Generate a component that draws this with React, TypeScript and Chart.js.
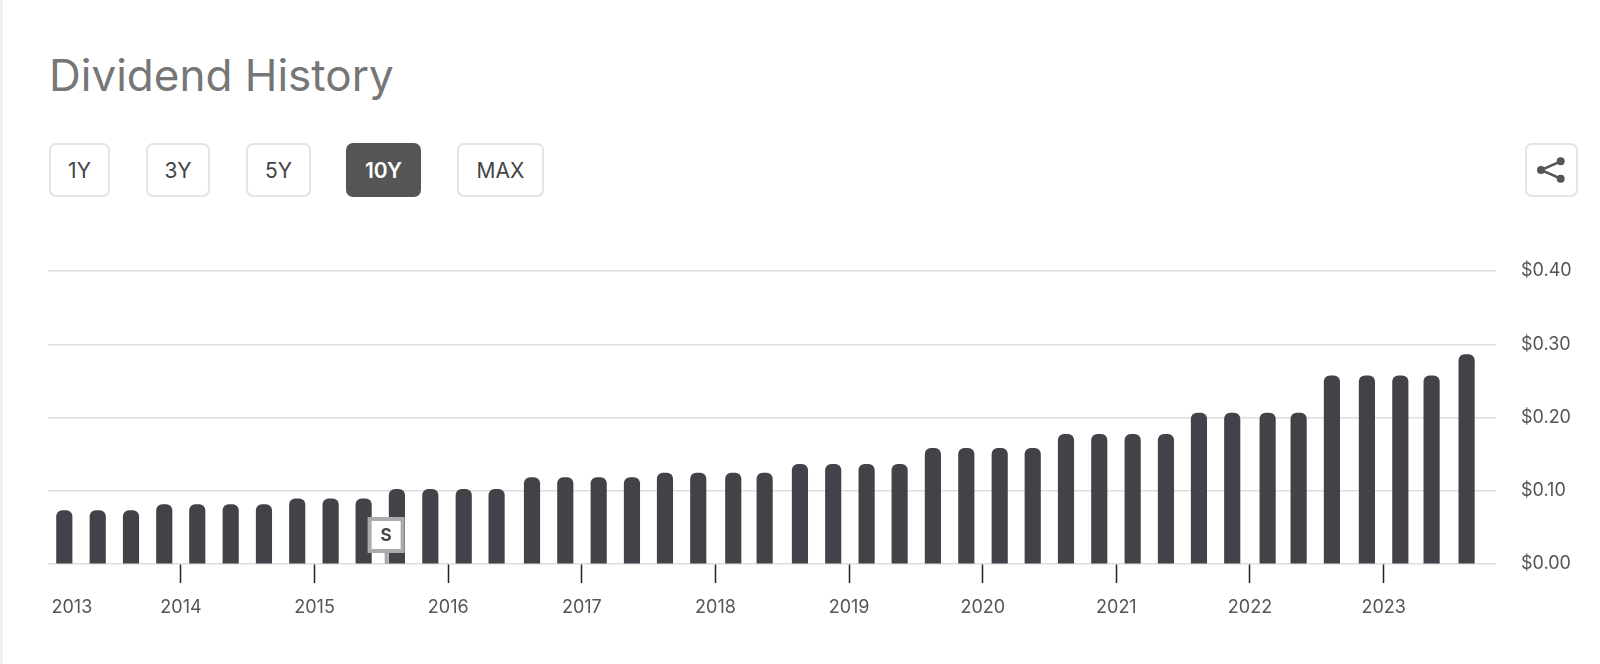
import { useEffect, useRef } from 'react';
import { Chart, registerables } from 'chart.js';
import type { Plugin } from 'chart.js';

Chart.register(...registerables);

// Ex-dividend dates as fractional years
const exDates = [
  2013.127, 2013.377, 2013.626, 2013.875,
  2014.122, 2014.372, 2014.621, 2014.87,
  2015.12, 2015.367, 2015.616, 2015.866,
  2016.116, 2016.362, 2016.627, 2016.876,
  2017.126, 2017.375, 2017.622, 2017.871,
  2018.133, 2018.368, 2018.632, 2018.881,
  2019.131, 2019.378, 2019.627, 2019.877,
  2020.127, 2020.374, 2020.623, 2020.872,
  2021.122, 2021.371, 2021.618, 2021.867,
  2022.132, 2022.364, 2022.613, 2022.875,
  2023.125, 2023.359, 2023.621,
];

const dividends = [
  0.073, 0.073, 0.073, 0.081,
  0.081, 0.081, 0.081, 0.089,
  0.089, 0.089, 0.102, 0.102,
  0.102, 0.102, 0.118, 0.118,
  0.118, 0.118, 0.124, 0.124,
  0.124, 0.124, 0.136, 0.136,
  0.136, 0.136, 0.158, 0.158,
  0.158, 0.158, 0.177, 0.177,
  0.177, 0.177, 0.206, 0.206,
  0.206, 0.206, 0.257, 0.257,
  0.257, 0.257, 0.286,
];

// 2013 has no tick mark in the original, its label just sits at the left edge
const yearTicks = [2013.184, 2014, 2015, 2016, 2017, 2018, 2019, 2020, 2021, 2022, 2023];
const yearLabels = ['2013', '2014', '2015', '2016', '2017', '2018', '2019', '2020', '2021', '2022', '2023'];

const splitDates = [2015.539];

const ranges = ['1Y', '3Y', '5Y', '10Y', 'MAX'];
const rangeBoxes = [
  { left: 49, width: 61 },
  { left: 146, width: 64 },
  { left: 246, width: 65 },
  { left: 346, width: 75 },
  { left: 457, width: 87 },
];

const FONT = 'Inter, "Liberation Sans", sans-serif';

// Little "S" flag for the stock split
const splitFlag: Plugin<'bar'> = {
  id: 'splitFlag',
  afterDatasetsDraw(chart) {
    const { ctx, scales } = chart;
    const bottom = chart.chartArea.bottom;
    splitDates.forEach((d) => {
      const x = scales.x.getPixelForValue(d);
      ctx.save();
      ctx.fillStyle = '#ababab';
      ctx.fillRect(x - 2, bottom - 12, 4, 12);
      ctx.fillRect(x - 19, bottom - 47, 37, 36);
      ctx.fillStyle = '#ffffff';
      ctx.fillRect(x - 15, bottom - 43, 29, 28);
      ctx.fillStyle = '#444444';
      ctx.font = `700 17px ${FONT}`;
      ctx.textAlign = 'center';
      ctx.textBaseline = 'middle';
      ctx.fillText('S', x - 0.5, bottom - 28.5);
      ctx.restore();
    });
  },
};

export default function App() {
  const canvasRef = useRef<HTMLCanvasElement>(null);

  useEffect(() => {
    if (!canvasRef.current) return;

    const chart = new Chart(canvasRef.current, {
      type: 'bar',
      data: {
        datasets: [{
          label: 'Dividend',
          data: exDates.map((d, i) => ({ x: d, y: dividends[i] })),
          backgroundColor: '#434248',
          barThickness: 15.5,
          borderRadius: 6,
        }],
      },
      options: {
        responsive: false,
        animation: false,
        layout: { padding: { left: 48, top: 271 } },
        plugins: { legend: { display: false }, tooltip: { enabled: false } },
        scales: {
          x: {
            type: 'linear',
            offset: false,
            min: 2013.005,
            max: 2023.841,
            afterFit: (scale) => { scale.height = 100; },
            afterBuildTicks: (scale) => { scale.ticks = yearTicks.map((value) => ({ value })); },
            border: { display: false },
            grid: {
              offset: false,
              drawOnChartArea: false,
              tickLength: 19,
              tickWidth: 1.5,
              tickColor: (c) => (c.index === 0 ? 'rgba(0,0,0,0)' : '#222222'),
            },
            ticks: {
              autoSkip: false,
              maxRotation: 0,
              padding: 14,
              color: '#555555',
              font: { family: FONT, size: 18 },
              callback: (_v, i) => yearLabels[i],
            },
          },
          y: {
            position: 'right',
            min: 0,
            max: 0.4,
            afterFit: (scale) => { scale.width = 104; },
            border: { display: false },
            grid: { color: '#dddddd', lineWidth: 1.5, drawTicks: false },
            ticks: {
              stepSize: 0.1,
              padding: 25,
              color: '#555555',
              font: { family: FONT, size: 18 },
              callback: (v) => `$${Number(v).toFixed(2)}`,
            },
          },
        },
      },
      plugins: [splitFlag],
    });

    return () => chart.destroy();
  }, []);

  return (
    <div style={{ position: 'absolute', left: 0, top: 0, width: 1600, height: 664, overflow: 'hidden', background: '#fff', fontFamily: FONT }}>
      <div style={{ position: 'absolute', left: 0, top: 0, width: 3, height: 664, background: '#efefef' }} />
      <div style={{ position: 'absolute', left: 49, top: 48, fontSize: 44, lineHeight: '54px', color: '#767676' }}>
        Dividend History
      </div>
      {ranges.map((r, i) => {
        const active = r === '10Y';
        return (
          <div
            key={r}
            style={{
              position: 'absolute',
              top: 143,
              height: 54,
              left: rangeBoxes[i].left,
              width: rangeBoxes[i].width,
              boxSizing: 'border-box',
              display: 'flex',
              alignItems: 'center',
              justifyContent: 'center',
              border: active ? '2px solid #555' : '2px solid #e4e4e4',
              borderRadius: 7,
              background: active ? '#555' : '#fff',
              color: active ? '#fff' : '#444',
              fontSize: 21,
              fontWeight: active ? 600 : 400,
            }}
          >
            {r}
          </div>
        );
      })}
      <div style={{ position: 'absolute', left: 1525, top: 143, width: 53, height: 54, boxSizing: 'border-box', border: '2px solid #e4e4e4', borderRadius: 7 }}>
        <svg width="49" height="50" viewBox="0 0 49 50">
          <path d="M33.7 16.3 L14 25 L33.7 33.7" fill="none" stroke="#555" strokeWidth="2.5" />
          <circle cx="33.7" cy="16.3" r="4" fill="#555" />
          <circle cx="14" cy="25" r="4" fill="#555" />
          <circle cx="33.7" cy="33.7" r="4" fill="#555" />
        </svg>
      </div>
      <canvas ref={canvasRef} width={1600} height={664} style={{ position: 'absolute', left: 0, top: 0 }} />
    </div>
  );
}
